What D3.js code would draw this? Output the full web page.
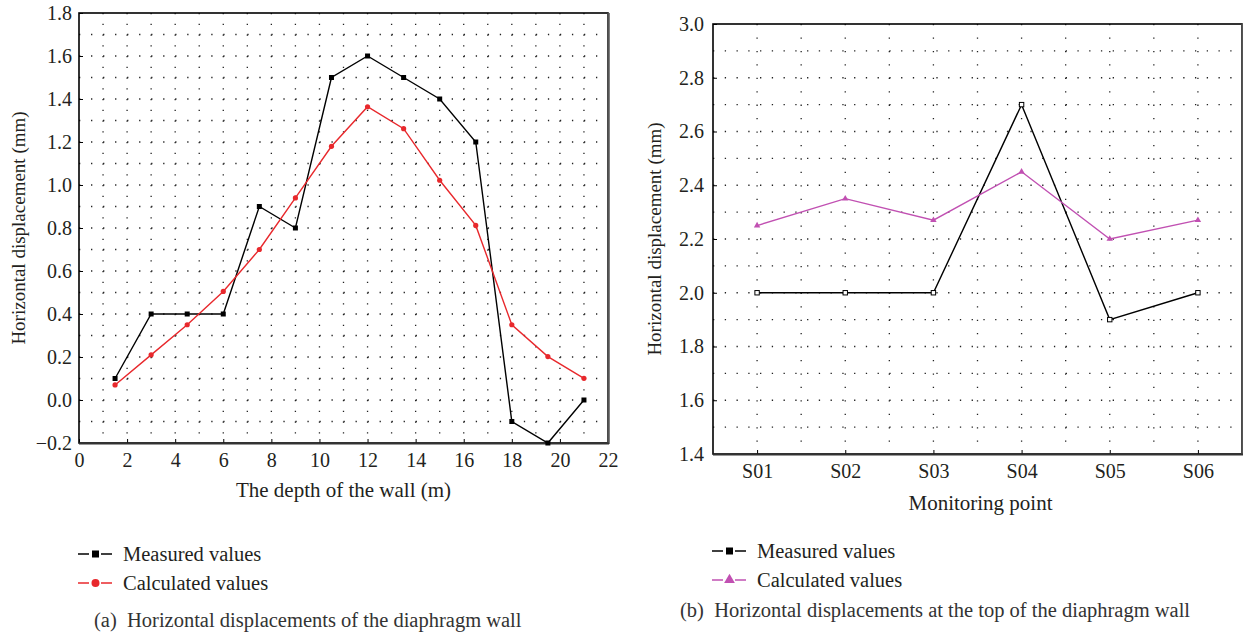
<!DOCTYPE html>
<html>
<head>
<meta charset="utf-8">
<script src="https://cdn.jsdelivr.net/npm/d3@7"></script>
<style>
  body { margin: 0; background: #fff; }
  text { font-family: "Liberation Serif", "DejaVu Serif", serif; fill: #231f20; }
</style>
</head>
<body>
<svg id="chart" width="1243" height="637"></svg>
<script>
// chart (a): depth of the wall (m) vs horizontal displacement (mm)
const depth = [1.5, 3, 4.5, 6, 7.5, 9, 10.5, 12, 13.5, 15, 16.5, 18, 19.5, 21];
const measuredA = [0.1, 0.4, 0.4, 0.4, 0.9, 0.8, 1.5, 1.6, 1.5, 1.4, 1.2, -0.1, -0.2, 0.0];
const calculatedA = [0.07, 0.21, 0.35, 0.505, 0.70, 0.94, 1.18, 1.364, 1.262, 1.022, 0.812, 0.35, 0.202, 0.101];
const xTicksA = [0, 2, 4, 6, 8, 10, 12, 14, 16, 18, 20, 22];
const yTicksA = [-0.2, 0.0, 0.2, 0.4, 0.6, 0.8, 1.0, 1.2, 1.4, 1.6, 1.8];

// chart (b): monitoring points at the top of the wall
const points = ["S01", "S02", "S03", "S04", "S05", "S06"];
const measuredB = [2.0, 2.0, 2.0, 2.7, 1.9, 2.0];
const calculatedB = [2.25, 2.35, 2.27, 2.45, 2.2, 2.27];
const yTicksB = [1.4, 1.6, 1.8, 2.0, 2.2, 2.4, 2.6, 2.8, 3.0];

const svg = d3.select("#chart");
const fmt = d3.format(".1f");
const redCol = "#e8282c";
const magCol = "#c150b2";

// dotted grid, dots every half step so they meet at crossings
function dotGrid(g, xs, ys, x0, x1, y0, y1, hGap, vGap) {
  g.append("g").selectAll("line").data(ys).join("line")
    .attr("x1", x0).attr("x2", x1)
    .attr("y1", d => d).attr("y2", d => d)
    .attr("stroke", "#222").attr("stroke-width", 1.3)
    .attr("stroke-dasharray", `1.3,${hGap - 1.3}`);
  g.append("g").selectAll("line").data(xs).join("line")
    .attr("x1", d => d).attr("x2", d => d)
    .attr("y1", y1).attr("y2", y0)
    .attr("stroke", "#222").attr("stroke-width", 1.3)
    .attr("stroke-dasharray", `1.3,${vGap - 1.3}`);
}

function frame(g, m) {
  g.append("rect").attr("x", m.l).attr("y", m.t)
    .attr("width", m.r - m.l).attr("height", m.b - m.t)
    .attr("fill", "none").attr("stroke", "#000").attr("stroke-width", 1.6);
  g.append("line").attr("x1", m.r + 0.5).attr("x2", m.r + 0.5)
    .attr("y1", m.t).attr("y2", m.b + 1)
    .attr("stroke", "#555").attr("stroke-width", 2.5);
  g.append("line").attr("x1", m.l).attr("x2", m.r + 1)
    .attr("y1", m.b + 0.5).attr("y2", m.b + 0.5)
    .attr("stroke", "#333").attr("stroke-width", 1.8);
}

function legend(g, x, y, color, shape, labels) {
  labels.forEach((lab, i) => {
    const yy = y + i * 29;
    const c = i === 0 ? "#000" : color;
    g.append("line").attr("x1", x).attr("x2", x + 34).attr("y1", yy).attr("y2", yy)
      .attr("stroke", c).attr("stroke-width", 1.3);
    g.append("rect").attr("x", x + 11).attr("y", yy - 5).attr("width", 12).attr("height", 10).attr("fill", "#fff");
    if (i === 0) {
      g.append("rect").attr("x", x + 14).attr("y", yy - 3.5).attr("width", 7).attr("height", 7).attr("fill", "#000");
    } else {
      g.append("path").attr("d", d3.symbol(shape, 50)())
        .attr("transform", `translate(${x + 17.5},${yy})`).attr("fill", c);
    }
    g.append("text").attr("x", x + 45).attr("y", yy + 6.5).style("font-size", "20.5px").text(lab);
  });
}

// ---------------- chart (a) ----------------
const mA = { l: 79, r: 608, t: 13, b: 443 };
const xA = d3.scaleLinear().domain([0, 22]).range([mA.l, mA.r]);
const yA = d3.scaleLinear().domain([-0.2, 1.8]).range([mA.b, mA.t]);
const gA = svg.append("g");

dotGrid(gA, d3.range(1, 22).map(xA), d3.range(1, 20).map(i => yA(-0.2 + i * 0.1)),
  mA.l, mA.r, mA.b, mA.t, (xA(1) - xA(0)) / 2, (yA(0) - yA(0.1)) / 2);

gA.append("g").attr("transform", `translate(0,${mA.b})`)
  .call(d3.axisBottom(xA).tickValues(xTicksA).tickSize(-4).tickPadding(10))
  .call(a => a.select(".domain").remove())
  .call(a => a.selectAll("text").style("font-size", "20px"));
gA.append("g").attr("transform", `translate(${mA.l},0)`)
  .call(d3.axisLeft(yA).tickValues(yTicksA).tickFormat(fmt).tickSize(-4).tickPadding(7))
  .call(a => a.select(".domain").remove())
  .call(a => a.selectAll("text").style("font-size", "20px"));
frame(gA, mA);

const lineA = d3.line().x((d, i) => xA(depth[i])).y(d => yA(d));
gA.append("path").datum(measuredA).attr("d", lineA).attr("fill", "none").attr("stroke", "#000").attr("stroke-width", 1.4);
gA.append("path").datum(calculatedA).attr("d", lineA).attr("fill", "none").attr("stroke", redCol).attr("stroke-width", 1.4);
gA.append("g").selectAll("rect").data(measuredA).join("rect")
  .attr("x", (d, i) => xA(depth[i]) - 2.5).attr("y", d => yA(d) - 2.5)
  .attr("width", 5).attr("height", 5).attr("fill", "#000");
gA.append("g").selectAll("circle").data(calculatedA).join("circle")
  .attr("cx", (d, i) => xA(depth[i])).attr("cy", d => yA(d)).attr("r", 2.6).attr("fill", redCol);

gA.append("text").attr("x", (mA.l + mA.r) / 2).attr("y", 497).attr("text-anchor", "middle")
  .style("font-size", "21px").text("The depth of the wall (m)");
gA.append("text").attr("transform", `translate(25,${(mA.t + mA.b) / 2}) rotate(-90)`)
  .attr("text-anchor", "middle").style("font-size", "19px").text("Horizontal displacement (mm)");
legend(gA, 78, 554, redCol, d3.symbolCircle, ["Measured values", "Calculated values"]);
gA.append("text").attr("x", 94).attr("y", 627).style("font-size", "20.5px").style("fill", "#333")
  .text("(a)\u2002Horizontal displacements of the diaphragm wall");

// ---------------- chart (b) ----------------
const mB = { l: 713, r: 1242, t: 24, b: 454 };
const xB = d3.scalePoint().domain(points).range([mB.l, mB.r]).padding(0.5);
const yB = d3.scaleLinear().domain([1.4, 3.0]).range([mB.b, mB.t]);
const gB = svg.append("g");
const stepB = xB.step();

dotGrid(gB, d3.range(1, 12).map(i => mB.l + i * stepB / 2), d3.range(1, 16).map(i => yB(1.4 + i * 0.1)),
  mB.l, mB.r, mB.b, mB.t, stepB / 7.5, (yB(1.4) - yB(1.5)) / 2);

gB.append("g").attr("transform", `translate(0,${mB.b})`)
  .call(d3.axisBottom(xB).tickSize(-4).tickPadding(10))
  .call(a => a.select(".domain").remove())
  .call(a => a.selectAll("text").style("font-size", "20px"));
gB.append("g").attr("transform", `translate(${mB.l},0)`)
  .call(d3.axisLeft(yB).tickValues(yTicksB).tickFormat(fmt).tickSize(-4).tickPadding(9))
  .call(a => a.select(".domain").remove())
  .call(a => a.selectAll("text").style("font-size", "20px"));
frame(gB, mB);

const lineB = d3.line().x((d, i) => xB(points[i])).y(d => yB(d));
gB.append("path").datum(measuredB).attr("d", lineB).attr("fill", "none").attr("stroke", "#000").attr("stroke-width", 1.4);
gB.append("path").datum(calculatedB).attr("d", lineB).attr("fill", "none").attr("stroke", magCol).attr("stroke-width", 1.4);
gB.append("g").selectAll("rect").data(measuredB).join("rect")
  .attr("x", (d, i) => xB(points[i]) - 2.2).attr("y", d => yB(d) - 2.2)
  .attr("width", 4.4).attr("height", 4.4).attr("fill", "#fff").attr("stroke", "#000").attr("stroke-width", 1);
gB.append("g").selectAll("path").data(calculatedB).join("path")
  .attr("d", d3.symbol(d3.symbolTriangle, 18)())
  .attr("transform", (d, i) => `translate(${xB(points[i])},${yB(d)})`).attr("fill", magCol);

gB.append("text").attr("x", (mB.l + mB.r) / 2 + 3).attr("y", 510).attr("text-anchor", "middle")
  .style("font-size", "21px").text("Monitoring point");
gB.append("text").attr("transform", `translate(661,${(mB.t + mB.b) / 2}) rotate(-90)`)
  .attr("text-anchor", "middle").style("font-size", "19px").text("Horizontal displacement (mm)");
legend(gB, 712, 551, magCol, d3.symbolTriangle, ["Measured values", "Calculated values"]);
gB.append("text").attr("x", 680).attr("y", 617).style("font-size", "20.5px").style("fill", "#333")
  .text("(b)\u2002Horizontal displacements at the top of the diaphragm wall");
</script>
</body>
</html>
